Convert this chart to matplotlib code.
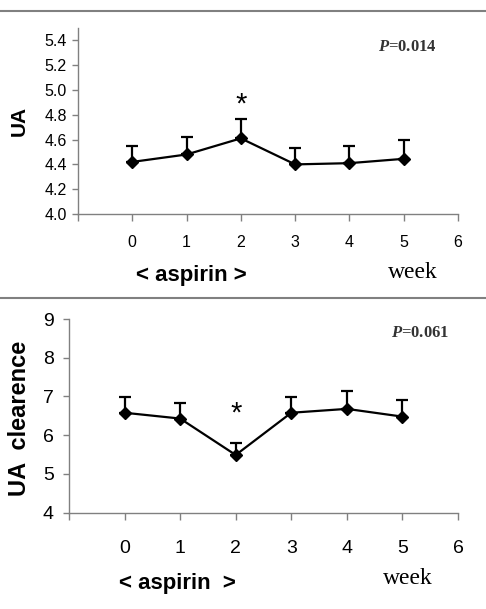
import matplotlib
matplotlib.use("Agg")
import matplotlib.pyplot as plt
from matplotlib.lines import Line2D

plt.rcParams['font.family'] = ['Liberation Sans', 'DejaVu Sans']
plt.rcParams['mathtext.fontset'] = 'custom'
plt.rcParams['mathtext.it'] = 'Liberation Serif:italic:bold'
plt.rcParams['mathtext.rm'] = 'Liberation Serif:bold'

# data
weeks = [0, 1, 2, 3, 4, 5]
ua_mean = [4.42, 4.48, 4.61, 4.40, 4.41, 4.445]
ua_err = [0.13, 0.145, 0.155, 0.13, 0.14, 0.15]
clr_mean = [6.58, 6.43, 5.49, 6.58, 6.68, 6.48]
clr_err = [0.40, 0.40, 0.31, 0.40, 0.47, 0.42]

W, H = 486, 609
fig = plt.figure(figsize=(W / 100, H / 100), dpi=100)
gray = '#808080'


def fx(px):
    return px / W


def fy(py):
    return 1 - py / H


def panel(rect, mean, err, ylim, yticks, tickfs, xpad, ypad):
    ax = fig.add_axes(rect)
    ax.errorbar(weeks, mean, yerr=[[0] * len(err), err], color='black', lw=1.6,
                marker='D', markersize=6.5, capsize=4, capthick=1.6, elinewidth=1.6)
    ax.set_xlim(-1, 6)
    ax.set_ylim(*ylim)
    ax.set_xticks([-1, 0, 1, 2, 3, 4, 5, 6])
    ax.set_xticklabels([''] + [str(i) for i in range(7)])
    ax.set_yticks(yticks)
    for s in ['top', 'right']:
        ax.spines[s].set_visible(False)
    for s in ['left', 'bottom']:
        ax.spines[s].set_color(gray)
        ax.spines[s].set_linewidth(1)
    ax.tick_params(axis='x', colors=gray, length=5, width=1, pad=xpad,
                   labelsize=tickfs, labelcolor='black')
    ax.tick_params(axis='y', colors=gray, length=4, width=1, pad=ypad,
                   labelsize=tickfs, labelcolor='black')
    return ax


# top panel
ua_ticks = [4.0, 4.2, 4.4, 4.6, 4.8, 5.0, 5.2, 5.4]
ax1 = panel([fx(78), fy(214), fx(458) - fx(78), fy(28) - fy(214)],
            ua_mean, ua_err, (4.0, 5.5), ua_ticks, 11.5, 10, 4)
ax1.set_yticklabels(['%.1f' % v for v in ua_ticks])
ax1.text(2, 4.88, '*', ha='center', va='center', fontsize=21)
ax1.text(0.866, 0.90, r'$\mathit{P}$=0.014', transform=ax1.transAxes,
         ha='center', va='center', fontsize=12, family='Liberation Serif',
         weight='bold', color='#333333')

# bottom panel
ax2 = panel([fx(69), fy(512.7), fx(458) - fx(69), fy(319) - fy(512.7)],
            clr_mean, clr_err, (4, 9), [4, 5, 6, 7, 8, 9], 14, 15, 7)
ax2.text(2, 6.55, '*', ha='center', va='center', fontsize=21)
ax2.text(0.902, 0.928, r'$\mathit{P}$=0.061', transform=ax2.transAxes,
         ha='center', va='center', fontsize=12, family='Liberation Serif',
         weight='bold', color='#333333')

# labels
fig.text(fx(19), fy(121), 'UA', rotation=90, ha='center', va='center',
         fontsize=15, weight='bold')
fig.text(fx(191), fy(276), '< aspirin >', ha='center', va='center',
         fontsize=16, weight='bold')
fig.text(fx(413), fy(272), 'week', ha='center', va='center',
         fontsize=17, family='Liberation Serif')
fig.text(fx(19), fy(418), 'UA  clearence', rotation=90, ha='center', va='center',
         fontsize=17, weight='bold')
fig.text(fx(177), fy(583), '< aspirin  >', ha='center', va='center',
         fontsize=16, weight='bold')
fig.text(fx(408), fy(578), 'week', ha='center', va='center',
         fontsize=17, family='Liberation Serif')

# separator lines
for py in [11, 298]:
    fig.add_artist(Line2D([0, 1], [fy(py), fy(py)], transform=fig.transFigure,
                          color=gray, lw=1.5))

fig.savefig('out.png', dpi=100)
